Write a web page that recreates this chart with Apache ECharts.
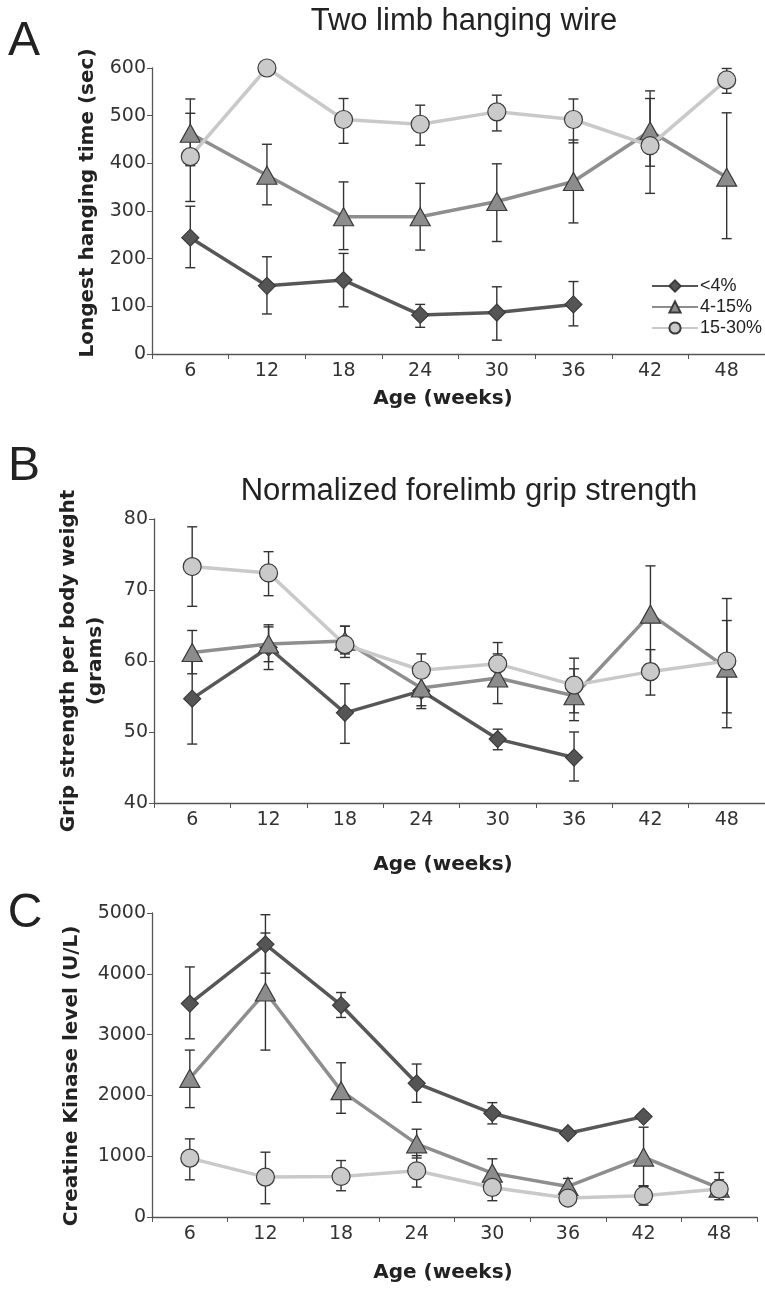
<!DOCTYPE html>
<html>
<head>
<meta charset="utf-8">
<script src="https://cdn.jsdelivr.net/npm/echarts@6/dist/echarts.min.js"></script>
<style>
  html, body { margin: 0; padding: 0; background: #fff; }
  #chart { width: 765px; height: 1289px; }
</style>
</head>
<body>
<div id="chart"></div>
<script>
// age groups (weeks)
var ages = ['6', '12', '18', '24', '30', '36', '42', '48'];
var groups = ['<4%', '4-15%', '15-30%'];

// A: longest hanging time (sec)
var hangLt4 = [244, 143, 155, 82, 87, 104, null, null];
var hangLt4Lo = [181, 84, 99, 56, 29, 59, null, null];
var hangLt4Hi = [310, 204, 211, 104, 141, 152, null, null];
var hang415 = [463, 375, 288, 288, 320, 362, 468, 371];
var hang415Lo = [395, 313, 219, 218, 236, 275, 394, 242];
var hang415Hi = [535, 440, 361, 358, 399, 449, 552, 506];
var hang1530 = [414, 600, 492, 482, 508, 492, 437, 575];
var hang1530Lo = [320, null, 442, 438, 468, 443, 337, 547];
var hang1530Hi = [505, null, 536, 522, 543, 535, 536, 599];

// B: grip strength per body weight (grams)
var gripLt4 = [54.7, 61.9, 52.7, 55.8, 49.0, 46.4, null, null];
var gripLt4Lo = [48.3, 58.8, 48.4, 53.3, 47.5, 43.1, null, null];
var gripLt4Hi = [61.1, 64.8, 56.8, 58.3, 50.4, 50.0, null, null];
var grip415 = [61.2, 62.4, 62.8, 56.2, 57.6, 55.1, 66.6, 59.0];
var grip415Lo = [58.2, 59.9, 61.0, 53.7, 54.0, 51.6, 59.6, 50.6];
var grip415Hi = [64.3, 65.1, 64.9, 59.0, 61.0, 58.9, 73.4, 68.8];
var grip1530 = [73.3, 72.4, 62.3, 58.7, 59.6, 56.6, 58.5, 60.0];
var grip1530Lo = [67.7, 69.2, 60.5, 56.4, 56.6, 52.7, 55.2, 52.7];
var grip1530Hi = [78.9, 75.4, 64.9, 61.0, 62.6, 60.4, 61.6, 65.7];

// C: creatine kinase level (U/L)
var ckLt4 = [3510, 4485, 3484, 2199, 1706, 1378, 1651, null];
var ckLt4Lo = [2931, 4010, 3282, 1887, 1531, null, null, null];
var ckLt4Hi = [4113, 4972, 3692, 2516, 1881, null, null, null];
var ck415 = [2281, 3700, 2078, 1203, 722, 503, 985, 476];
var ck415Lo = [1799, 2745, 1706, 970, 490, 370, 514, 338];
var ck415Hi = [2745, 4671, 2537, 1444, 957, 634, 1477, 612];
var ck1530 = [968, 656, 667, 760, 486, 312, 350, 459];
var ck1530Lo = [612, 218, 432, 492, 268, null, 195, 284];
var ck1530Hi = [1285, 1066, 929, 1010, 700, null, 505, 732];

var chart = echarts.init(document.getElementById('chart'));

var tickFont = 'DejaVu Sans';
var boldFont = 'DejaVu Sans';
var plainFont = 'Liberation Sans';

var lineColors = ['#575757', '#8e8e8e', '#c9c9c9'];
var markFill = ['#555555', '#8c8c8c', '#cacaca'];
var symbols = ['diamond', 'triangle', 'circle'];
var symSizes = [[17, 17], [20, 18], [18, 18]];

function errItems(lo, hi) {
  var out = [];
  for (var i = 0; i < lo.length; i++) {
    if (lo[i] != null && hi[i] != null) out.push([i, lo[i], hi[i]]);
  }
  return out;
}

function renderErr(params, api) {
  var x = api.value(0);
  var top = api.coord([x, api.value(2)]);
  var bot = api.coord([x, api.value(1)]);
  var w = 5;
  var st = { stroke: '#333', lineWidth: 1.4 };
  return {
    type: 'group',
    children: [
      { type: 'line', shape: { x1: top[0], y1: top[1], x2: bot[0], y2: bot[1] }, style: st },
      { type: 'line', shape: { x1: top[0] - w, y1: top[1], x2: top[0] + w, y2: top[1] }, style: st },
      { type: 'line', shape: { x1: bot[0] - w, y1: bot[1], x2: bot[0] + w, y2: bot[1] }, style: st }
    ]
  };
}

function makeX(idx) {
  return {
    type: 'category', gridIndex: idx, data: ages, boundaryGap: true,
    axisLine: { show: true, lineStyle: { color: '#555', width: 1.3 } },
    axisTick: { show: true, interval: 0, length: 5, lineStyle: { color: '#555' } },
    axisLabel: { interval: 0, margin: 8, color: '#333', fontSize: 19, fontFamily: tickFont },
    splitLine: { show: false }
  };
}

function makeY(idx, min, max, step) {
  return {
    type: 'value', gridIndex: idx, min: min, max: max, interval: step,
    axisLine: { show: true, lineStyle: { color: '#555', width: 1.3 } },
    axisTick: { show: true, length: 5, lineStyle: { color: '#555' } },
    axisLabel: {
      margin: 6, color: '#333', fontSize: 19, fontFamily: tickFont,
      formatter: function (v) { return String(v); }
    },
    splitLine: { show: false }
  };
}

function panelSeries(idx, vals, los, his) {
  var out = [];
  // error bars first so the markers sit on top
  for (var k = 0; k < 3; k++) {
    out.push({
      type: 'custom', name: groups[k] + ' sem', xAxisIndex: idx, yAxisIndex: idx,
      renderItem: renderErr, data: errItems(los[k], his[k]), z: 1, silent: true
    });
  }
  for (var j = 0; j < 3; j++) {
    out.push({
      type: 'line', name: groups[j], xAxisIndex: idx, yAxisIndex: idx,
      data: vals[j], connectNulls: false, z: 2 + j, clip: false,
      symbol: symbols[j], symbolSize: symSizes[j], showAllSymbol: true,
      lineStyle: { color: lineColors[j], width: 3.5 },
      itemStyle: { color: markFill[j], borderColor: '#3a3a3a', borderWidth: 1.2 }
    });
  }
  return out;
}

function txt(x, y, s, size, weight, font, rot) {
  return {
    type: 'text', x: x, y: y, rotation: rot || 0,
    style: {
      text: s, fontSize: size, fontWeight: weight, fontFamily: font,
      fill: '#222', textAlign: 'center', textVerticalAlign: 'middle'
    }
  };
}

var series = []
  .concat(panelSeries(0, [hangLt4, hang415, hang1530], [hangLt4Lo, hang415Lo, hang1530Lo], [hangLt4Hi, hang415Hi, hang1530Hi]))
  .concat(panelSeries(1, [gripLt4, grip415, grip1530], [gripLt4Lo, grip415Lo, grip1530Lo], [gripLt4Hi, grip415Hi, grip1530Hi]))
  .concat(panelSeries(2, [ckLt4, ck415, ck1530], [ckLt4Lo, ck415Lo, ck1530Lo], [ckLt4Hi, ck415Hi, ck1530Hi]));

var option = {
  animation: false,
  backgroundColor: '#fff',
  grid: [
    { left: 152, top: 68, right: 0, height: 286 },
    { left: 154, top: 519, right: 0, height: 284 },
    { left: 152, top: 913, right: 8, height: 304 }
  ],
  xAxis: [makeX(0), makeX(1), makeX(2)],
  yAxis: [makeY(0, 0, 600, 100), makeY(1, 40, 80, 10), makeY(2, 0, 5000, 1000)],
  legend: {
    data: groups, orient: 'vertical', left: 646, top: 272,
    itemWidth: 46, itemHeight: 14, itemGap: 3,
    textStyle: { fontSize: 18, fontFamily: plainFont, color: '#222', padding: [0, 0, 0, -3] }
  },
  graphic: [
    txt(24, 42, 'A', 48, 'normal', plainFont),
    txt(24, 467, 'B', 48, 'normal', plainFont),
    txt(25, 914, 'C', 48, 'normal', plainFont),
    txt(464, 21, 'Two limb hanging wire', 31, 'normal', plainFont),
    txt(469, 491, 'Normalized forelimb grip strength', 31, 'normal', plainFont),
    txt(443, 399, 'Age (weeks)', 20, 'bold', boldFont),
    txt(443, 865, 'Age (weeks)', 20, 'bold', boldFont),
    txt(443, 1273, 'Age (weeks)', 20, 'bold', boldFont),
    txt(88, 203, 'Longest hanging time (sec)', 20, 'bold', boldFont, Math.PI / 2),
    txt(69, 661, 'Grip strength per body weight', 20, 'bold', boldFont, Math.PI / 2),
    txt(96, 661, '(grams)', 20, 'bold', boldFont, Math.PI / 2),
    txt(72, 1076, 'Creatine Kinase level (U/L)', 20, 'bold', boldFont, Math.PI / 2)
  ],
  series: series
};

chart.setOption(option);
</script>
</body>
</html>
